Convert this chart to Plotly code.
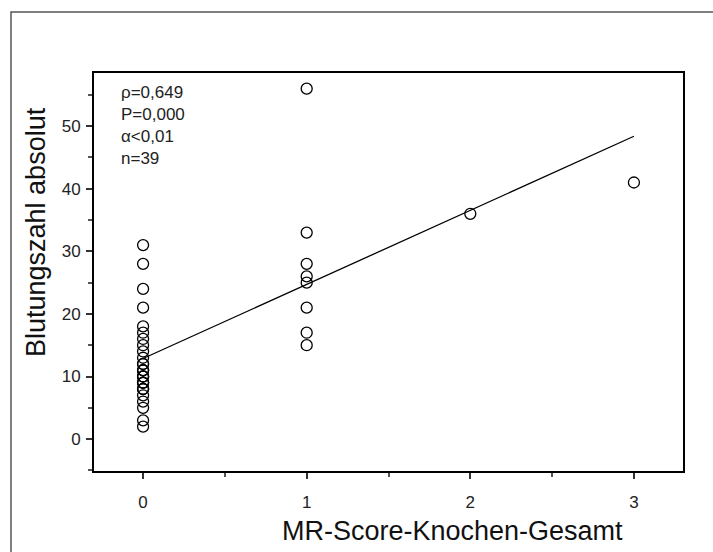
import numpy as np
import plotly.graph_objects as go

# Data
score_x = [0]*29 + [1]*8 + [2, 3]
bleed_y = [31, 28, 24, 21, 18, 17, 16, 15, 14, 13, 12, 12, 11, 11, 11,
           10, 10, 10, 9, 9, 9, 8, 8, 8, 7, 6, 5, 3, 2,
           56, 33, 28, 26, 25, 21, 17, 15,
           36, 41]
stats_lines = ["ρ=0,649", "P=0,000", "α<0,01", "n=39"]
x_ticks = [0, 1, 2, 3]
y_ticks = [0, 10, 20, 30, 40, 50]

slope, intercept = np.polyfit(score_x, bleed_y, 1)
fit_x = [min(score_x), max(score_x)]
fit_y = [intercept + slope * v for v in fit_x]

fig = go.Figure()
fig.add_trace(go.Scatter(x=fit_x, y=fit_y, mode="lines",
                         line=dict(color="black", width=1.3), hoverinfo="skip"))
fig.add_trace(go.Scatter(x=score_x, y=bleed_y, mode="markers",
                         marker=dict(symbol="circle-open", size=11,
                                     line=dict(color="black", width=1.3),
                                     color="black")))

font = "Liberation Sans, Arial, sans-serif"
fig.update_layout(
    width=713, height=552,
    margin=dict(l=94, r=30, t=73, b=81),
    paper_bgcolor="white", plot_bgcolor="white",
    showlegend=False,
    font=dict(family=font, size=17, color="#222"),
    xaxis=dict(range=[-0.3, 3.3], tickvals=x_ticks, ticks="outside", ticklen=6,
               tickcolor="#333", tickwidth=1.5,
               showline=True, linecolor="black", linewidth=2, mirror=True,
               showgrid=False, zeroline=False, ticklabelstandoff=9,
               minor=dict(dtick=0.5, tick0=0, ticks="outside", ticklen=4,
                          tickcolor="#555", showgrid=False),
               tickfont=dict(size=17, color="#222")),
    yaxis=dict(range=[-5.1, 58.5], tickvals=y_ticks, ticks="outside", ticklen=6,
               tickcolor="#333", tickwidth=1.5,
               showline=True, linecolor="black", linewidth=2, mirror=True,
               showgrid=False, zeroline=False, ticklabelstandoff=2,
               minor=dict(dtick=5, tick0=0, ticks="outside", ticklen=4,
                          tickcolor="#555", showgrid=False),
               tickfont=dict(size=17, color="#222")),
)

# outer gray frame
fig.add_shape(type="rect", xref="paper", yref="paper",
              x0=(11-94)/589, x1=1.2, y0=-0.4, y1=(471-12)/398,
              line=dict(color="#555", width=1.5), fillcolor="rgba(0,0,0,0)",
              layer="below")

fig.add_annotation(xref="paper", yref="paper", x=(119-94)/589, y=(471-81)/398,
                   text="<br>".join(stats_lines), showarrow=False,
                   xanchor="left", yanchor="top", align="left",
                   font=dict(size=17, color="#222", family=font))
fig.add_annotation(xref="paper", yref="paper", x=(36-94)/589, y=(471-232)/398,
                   text="Blutungszahl absolut", showarrow=False, textangle=-90,
                   xanchor="center", yanchor="middle",
                   font=dict(size=27, color="#111", family=font))
fig.add_annotation(xref="paper", yref="paper", x=(452-94)/589, y=(471-531)/398,
                   text="MR-Score-Knochen-Gesamt", showarrow=False,
                   xanchor="center", yanchor="middle",
                   font=dict(size=27, color="#111", family=font))

fig.write_html("out.html")
